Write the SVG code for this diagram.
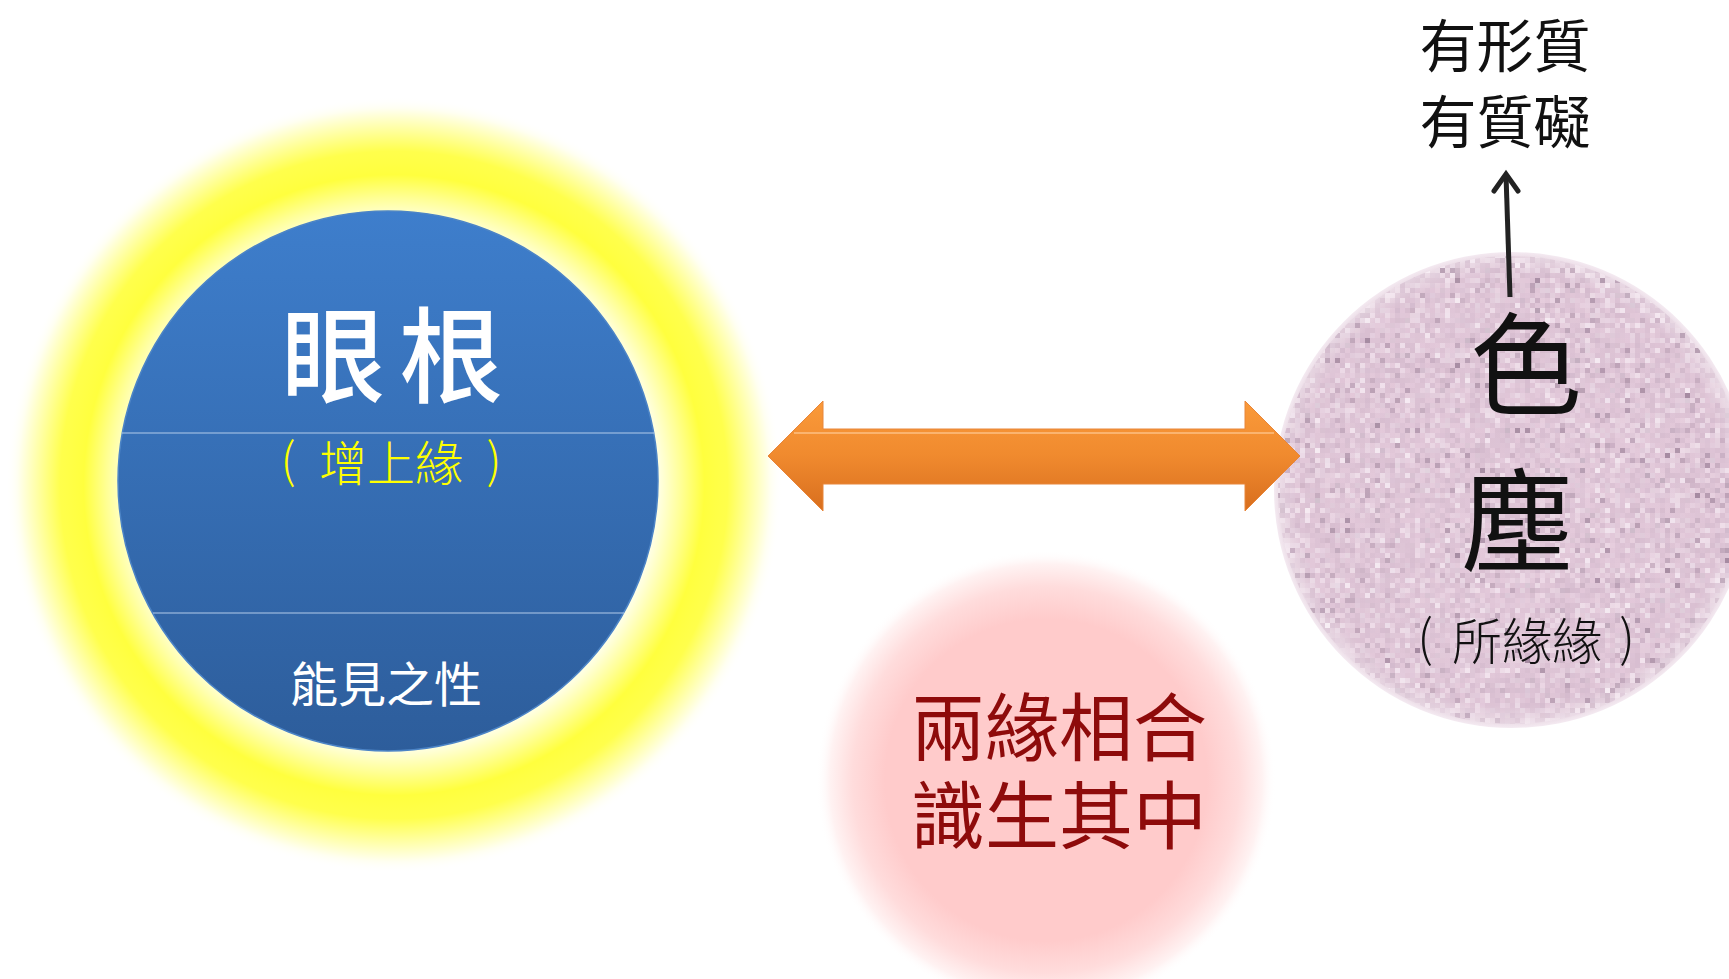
<svg xmlns="http://www.w3.org/2000/svg" width="1729" height="979" viewBox="0 0 1729 979">
<style>
.cjk{font-family:"Noto Sans CJK TC","Noto Sans CJK SC",sans-serif;text-anchor:middle}
.w{fill:#ffffff}
.y{fill:#ffff00}
.r{fill:#8e0b0b}
.k{fill:#111111}
</style>
<defs>
<radialGradient id="glowY" gradientUnits="userSpaceOnUse" cx="394" cy="485" r="388">
<stop offset="0.68" stop-color="#ffffe6"/>
<stop offset="0.74" stop-color="#ffff96"/>
<stop offset="0.80" stop-color="#ffff3e"/>
<stop offset="0.86" stop-color="#ffff4c"/>
<stop offset="0.92" stop-color="#ffffa6"/>
<stop offset="0.97" stop-color="#fffff0"/>
<stop offset="1" stop-color="#ffffff" stop-opacity="0"/>
</radialGradient>
<linearGradient id="blue" x1="0" y1="0" x2="0" y2="1">
<stop offset="0" stop-color="#3e7ecc"/>
<stop offset="1" stop-color="#2d5d9b"/>
</linearGradient>
<radialGradient id="glowP" gradientUnits="userSpaceOnUse" cx="1046" cy="780" r="230">
<stop offset="0" stop-color="#ffcbcb"/>
<stop offset="0.70" stop-color="#ffcbcb"/>
<stop offset="0.84" stop-color="#ffdcdc"/>
<stop offset="0.94" stop-color="#fff2f2"/>
<stop offset="1" stop-color="#ffffff" stop-opacity="0"/>
</radialGradient>
<radialGradient id="mauve" gradientUnits="userSpaceOnUse" cx="1512" cy="490" r="240">
<stop offset="0" stop-color="#e4cadb"/>
<stop offset="0.9" stop-color="#e2c8d9"/>
<stop offset="0.97" stop-color="#ecdde7"/>
<stop offset="1" stop-color="#f7eff5"/>
</radialGradient>
<linearGradient id="orange" gradientUnits="userSpaceOnUse" x1="0" y1="401" x2="0" y2="511">
<stop offset="0" stop-color="#fa9a3a"/>
<stop offset="0.5" stop-color="#f08a2e"/>
<stop offset="1" stop-color="#d86e1e"/>
</linearGradient>
<filter id="pixTone" filterUnits="userSpaceOnUse" primitiveUnits="userSpaceOnUse" x="1270" y="248" width="480" height="485">
<feTurbulence type="fractalNoise" baseFrequency="0.3" numOctaves="2" seed="11" result="n"/>
<feColorMatrix in="n" type="matrix" values="0 0 0 0 0.62  0 0 0 0 0.46  0 0 0 0 0.58  1.6 0 0 0 -0.55" result="c"/>
<feFlood x="1272" y="250" width="1" height="1" flood-color="#000000" result="dot"/>
<feComposite in="dot" in2="dot" operator="over" x="1270" y="248" width="5" height="5" result="cell"/>
<feTile in="cell" result="grid"/>
<feComposite in="c" in2="grid" operator="in" result="s"/>
<feMorphology in="s" operator="dilate" radius="2"/>
<feComposite in2="SourceGraphic" operator="in"/>
</filter>
<filter id="pixDark" filterUnits="userSpaceOnUse" primitiveUnits="userSpaceOnUse" x="1270" y="248" width="480" height="485">
<feTurbulence type="fractalNoise" baseFrequency="0.3" numOctaves="2" seed="5" result="n"/>
<feColorMatrix in="n" type="matrix" values="0 0 0 0 0.38  0 0 0 0 0.26  0 0 0 0 0.36  5 0 0 0 -3.2" result="c"/>
<feFlood x="1272" y="250" width="1" height="1" flood-color="#000000" result="dot"/>
<feComposite in="dot" in2="dot" operator="over" x="1270" y="248" width="5" height="5" result="cell"/>
<feTile in="cell" result="grid"/>
<feComposite in="c" in2="grid" operator="in" result="s"/>
<feMorphology in="s" operator="dilate" radius="2"/>
<feComposite in2="SourceGraphic" operator="in"/>
</filter>
<filter id="pixLight" filterUnits="userSpaceOnUse" primitiveUnits="userSpaceOnUse" x="1270" y="248" width="480" height="485">
<feTurbulence type="fractalNoise" baseFrequency="0.3" numOctaves="2" seed="23" result="n"/>
<feColorMatrix in="n" type="matrix" values="0 0 0 0 0.97  0 0 0 0 0.90  0 0 0 0 0.95  0 3 0 0 -1.5" result="c"/>
<feFlood x="1272" y="250" width="1" height="1" flood-color="#000000" result="dot"/>
<feComposite in="dot" in2="dot" operator="over" x="1270" y="248" width="5" height="5" result="cell"/>
<feTile in="cell" result="grid"/>
<feComposite in="c" in2="grid" operator="in" result="s"/>
<feMorphology in="s" operator="dilate" radius="2"/>
<feComposite in2="SourceGraphic" operator="in"/>
</filter>
</defs>
<rect width="1729" height="979" fill="#ffffff"/>

<g id="node-eye-root">
<circle cx="394" cy="485" r="388" fill="url(#glowY)"/>
<circle cx="388" cy="481" r="270" fill="url(#blue)" stroke="#4c84c6" stroke-width="1.5"/>
<line x1="122" y1="433" x2="654" y2="433" stroke="#b3cbe9" stroke-width="1.2"/>
<line x1="153" y1="613" x2="624" y2="613" stroke="#b3cbe9" stroke-width="1.2"/>
<text class="cjk w" x="399" y="395" font-size="104" font-weight="500" letter-spacing="14">眼根</text>
<text class="cjk y" font-size="48" font-weight="300"><tspan x="288" y="478">(</tspan><tspan x="391" y="481">增上緣</tspan><tspan x="494" y="478">)</tspan></text>
<text class="cjk w" x="386" y="702" font-size="48">能見之性</text>
</g>

<g id="node-union">
<circle cx="1046" cy="780" r="230" fill="url(#glowP)"/>
<text class="cjk r" font-size="74"><tspan x="1059" y="755">兩緣相合</tspan><tspan x="1059" y="843">識生其中</tspan></text>
</g>

<g id="node-form-dust">
<circle cx="1512" cy="490" r="238" fill="url(#mauve)"/>
<circle cx="1512" cy="490" r="234" fill="#000" filter="url(#pixTone)"/>
<circle cx="1512" cy="490" r="234" fill="#000" filter="url(#pixLight)" opacity="0.8"/>
<circle cx="1512" cy="490" r="234" fill="#000" filter="url(#pixDark)"/>
<text class="cjk k" x="1526" y="407" font-size="112">色</text>
<text class="cjk k" x="1517" y="563" font-size="112">塵</text>
<text class="cjk k" font-size="50" font-weight="300"><tspan x="1425" y="656">(</tspan><tspan x="1527" y="660">所緣緣</tspan><tspan x="1627" y="656">)</tspan></text>
</g>

<g id="node-quality">
<text class="cjk k" font-size="57"><tspan x="1505" y="67">有形質</tspan><tspan x="1505" y="143">有質礙</tspan></text>
</g>

<g id="connectors">
<polygon points="768,456 823,401 823,429 1245,429 1245,401 1300,456 1245,511 1245,484 823,484 823,511" fill="url(#orange)" stroke="#e8863a" stroke-width="1"/>
<line x1="794" y1="433" x2="1274" y2="433" stroke="#ffc892" stroke-width="1.5" opacity="0.85"/>
<line x1="1510" y1="297" x2="1506" y2="175" stroke="#222222" stroke-width="5"/>
<polyline points="1494,191 1506,174 1518,191" fill="none" stroke="#222222" stroke-width="5" stroke-linecap="round" stroke-linejoin="miter"/>
</g>
</svg>
